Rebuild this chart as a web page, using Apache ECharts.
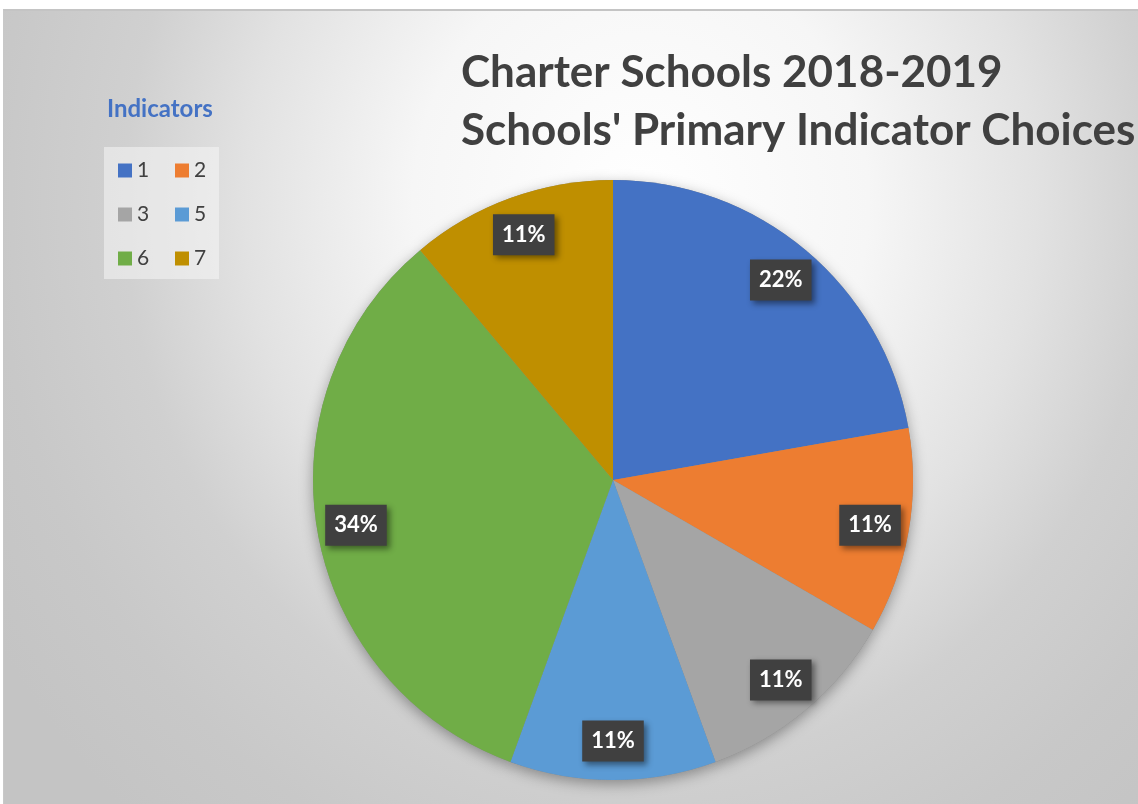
<!DOCTYPE html>
<html>
<head>
<meta charset="utf-8">
<script src="https://cdn.jsdelivr.net/npm/echarts@6/dist/echarts.min.js"></script>
<style>
  html, body { margin: 0; padding: 0; background: #ffffff; }
  #frame {
    position: absolute; left: 3px; top: 9px; width: 1135px; height: 795px;
    border-top: 2px solid #c4c4c4; border-left: 1px solid #c8c8c8;
    background: radial-gradient(760px 830px at 637px 191px, #ffffff 0%, #f6f6f6 30%, #e2e2e2 52%, #d0d0d0 68%, #c8c8c8 85%, #c4c4c4 100%);
  }
  #main { position: absolute; left: 0; top: 0; width: 1138px; height: 804px; }
</style>
</head>
<body>
<div id="frame"></div>
<div id="main"></div>
<script>
// 图表数据
var indicators = ['1', '2', '3', '5', '6', '7'];
var schoolCounts = [2, 1, 1, 1, 3, 1];
var sliceColors = ['#4472C4', '#ED7D31', '#A5A5A5', '#5B9BD5', '#70AD47', '#BF8F00'];

var pieData = indicators.map(function (name, i) {
    return { name: name, value: schoolCounts[i], itemStyle: { color: sliceColors[i] } };
});

var legendText = {
    color: '#404040',
    fontSize: 21,
    lineHeight: 20,
    fontFamily: 'Lato'
};

var option = {
    backgroundColor: 'transparent',
    title: {
        text: 'Charter Schools 2018-2019\nSchools\' Primary Indicator Choices',
        left: 456,
        top: 39,
        textStyle: {
            fontFamily: 'Lato',
            fontWeight: 'bold',
            fontSize: 44,
            lineHeight: 58,
            color: '#404040'
        }
    },
    graphic: [
        {
            type: 'rect',
            left: 104, top: 147,
            shape: { width: 115, height: 132 },
            style: { fill: 'rgba(245,245,245,0.55)' },
            z: 0
        },
        {
            type: 'text',
            left: 107, top: 97,
            style: {
                text: 'Indicators',
                fill: '#4472C4',
                font: 'bold 24px Lato'
            }
        }
    ],
    legend: [
        {
            data: ['1', '3', '6'],
            orient: 'vertical',
            left: 118, top: 160,
            padding: 0,
            itemWidth: 14, itemHeight: 14, itemGap: 23,
            icon: 'rect',
            textStyle: legendText
        },
        {
            data: ['2', '5', '7'],
            orient: 'vertical',
            left: 175, top: 160,
            padding: 0,
            itemWidth: 14, itemHeight: 14, itemGap: 23,
            icon: 'rect',
            textStyle: legendText
        }
    ],
    series: [
        {
            // 饼图阴影底层
            name: 'shadow',
            type: 'pie',
            center: [613, 480],
            radius: [0, 300],
            silent: true,
            legendHoverLink: false,
            z: 1,
            label: { show: false },
            labelLine: { show: false },
            itemStyle: {
                color: '#888',
                shadowBlur: 14,
                shadowOffsetY: 4,
                shadowColor: 'rgba(0,0,0,0.35)'
            },
            data: schoolCounts.map(function (v, i) { return { name: 'bg' + i, value: v }; })
        },
        {
            name: 'Indicators',
            type: 'pie',
            center: [613, 480],
            radius: [0, 300],
            z: 2,
            percentPrecision: 0,
            label: { show: false },
            labelLine: { show: false },
            itemStyle: { borderWidth: 0 },
            emphasis: { scale: false },
            data: pieData
        },
        {
            // 标签层
            name: 'labels',
            type: 'pie',
            center: [613, 480],
            radius: [216, 300],
            z: 3,
            silent: true,
            percentPrecision: 0,
            itemStyle: { color: 'transparent' },
            labelLine: { show: false },
            label: {
                show: true,
                position: 'inside',
                formatter: '{d}%',
                color: '#ffffff',
                fontFamily: 'Lato',
                fontWeight: 'bold',
                fontSize: 22,
                backgroundColor: '#404040',
                padding: [10, 9, 9, 9],
                shadowColor: 'rgba(0,0,0,0.45)',
                shadowBlur: 6,
                shadowOffsetX: 3,
                shadowOffsetY: 3
            },
            data: schoolCounts.map(function (v, i) { return { name: 'lb' + i, value: v }; })
        }
    ]
};

var myChart = echarts.init(document.getElementById('main'));
myChart.setOption(option);
</script>
</body>
</html>
